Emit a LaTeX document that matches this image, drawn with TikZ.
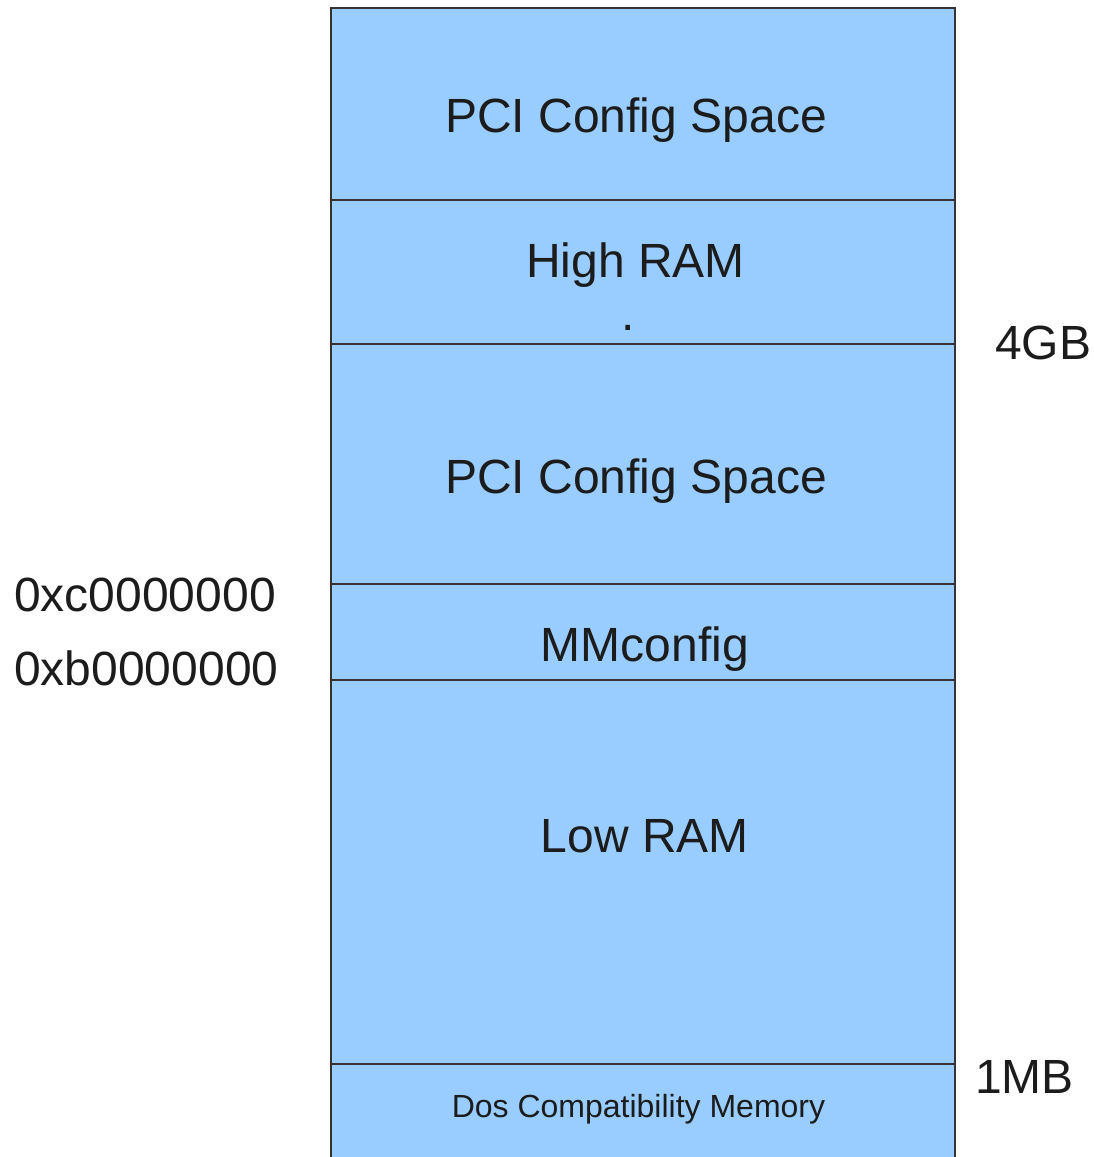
\documentclass[tikz,border=0pt]{standalone}
\usepackage{fontspec}
\setmainfont{Liberation Sans}
\definecolor{regionfill}{HTML}{99CCFF}
\definecolor{regionline}{HTML}{333333}
\definecolor{labeltext}{HTML}{1C1C1C}
\begin{document}
\begin{tikzpicture}[x=1pt,y=-1pt,
  region/.style={fill=regionfill,draw=regionline,line width=1.2pt},
  big/.style={inner sep=0pt,anchor=base,text=labeltext,font=\fontsize{48}{57}\selectfont},
  small/.style={inner sep=0pt,anchor=base,text=labeltext,font=\fontsize{32}{38}\selectfont},
  side/.style={inner sep=0pt,anchor=base west,text=labeltext,font=\fontsize{48}{57}\selectfont}]
\useasboundingbox (0,0) rectangle (1094,1157);
% memory regions, top to bottom
\path[region] (331,8) rectangle (955,200);
\path[region] (331,200) rectangle (955,344);
\path[region] (331,344) rectangle (955,584);
\path[region] (331,584) rectangle (955,680);
\path[region] (331,680) rectangle (955,1064);
\path[region] (331,1064) rectangle (955,1175);
% region names
\node[big] (pcitop) at (636,132) {PCI Config Space};
\node[big] (highram) at (635.5,277) {High RAM};
\node[big] (dot) at (628,330) {.};
\node[big] (pcilow) at (636,493) {PCI Config Space};
\node[big] (mmcfg) at (645,661) {MMconfig};
\node[big] (lowram) at (645,852) {Low RAM};
\node[small] (dos) at (638.5,1117) {Dos Compatibility Memory};
% address marks
\node[side] (gb4) at (995,359) {4GB};
\node[side] (mb1) at (975,1093) {1MB};
\node[side] (addrc) at (14,611) {0xc0000000};
\node[side] (addrb) at (14,685) {0xb0000000};
\end{tikzpicture}
\end{document}
